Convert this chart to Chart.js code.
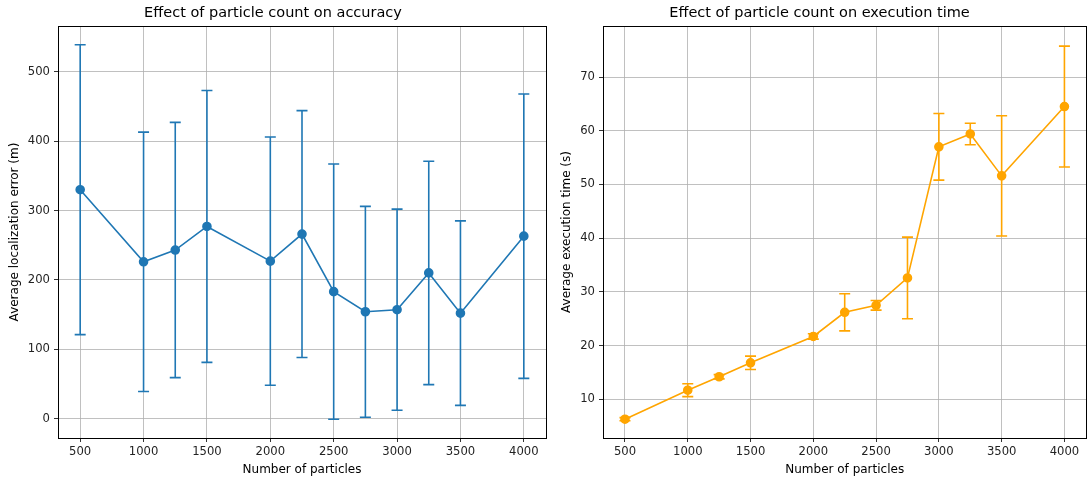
<!DOCTYPE html>
<html>
<head>
<meta charset="utf-8">
<script src="https://cdn.jsdelivr.net/npm/chart.js@4"></script>
<style>
  body { margin: 0; background: #fff; width: 1092px; height: 482px; overflow: hidden; }
  .box { position: absolute; top: 0; height: 482px; }
</style>
</head>
<body>
<div class="box" style="left:0;width:552px"><canvas id="chartErro"></canvas></div>
<div class="box" style="left:552px;width:540px"><canvas id="chartTempo"></canvas></div>
<script>
// dados
const particulas = [500, 1000, 1250, 1500, 2000, 2250, 2500, 2750, 3000, 3250, 3500, 4000];
const erroMedio = [330, 226, 243, 277, 227, 266, 183, 154, 157, 210, 152, 263];
const erroDesvio = [209, 187, 184, 196, 179, 178, 184, 152, 145, 161, 133, 205];
const tempoMedio = [6.3, 11.7, 14.2, 16.8, 21.7, 26.2, 27.5, 32.6, 57.0, 59.4, 51.6, 64.5];
const tempoDesvio = [0.3, 1.2, 0.4, 1.25, 0.5, 3.45, 0.9, 7.6, 6.2, 2.0, 11.2, 11.25];
const xTicks = [500, 1000, 1500, 2000, 2500, 3000, 3500, 4000];
const yTicksErro = [0, 100, 200, 300, 400, 500];
const yTicksTempo = [10, 20, 30, 40, 50, 60, 70];

Chart.defaults.font.family = "'DejaVu Sans', sans-serif";
Chart.defaults.color = "#222";

// barras de erro + moldura do gráfico
const errorBars = {
  id: "errorBars",
  beforeDatasetsDraw(chart, args, opts) {
    const c = chart.ctx;
    const xs = chart.scales.x, ys = chart.scales.y;
    c.save();
    c.strokeStyle = opts.color;
    c.lineWidth = 1.6;
    opts.means.forEach((m, i) => {
      const px = xs.getPixelForValue(particulas[i]);
      const top = ys.getPixelForValue(m + opts.devs[i]);
      const bot = ys.getPixelForValue(m - opts.devs[i]);
      c.beginPath();
      c.moveTo(px, top); c.lineTo(px, bot);
      c.moveTo(px - 5.5, top); c.lineTo(px + 5.5, top);
      c.moveTo(px - 5.5, bot); c.lineTo(px + 5.5, bot);
      c.stroke();
    });
    c.restore();
  },
  afterDraw(chart) {
    const a = chart.chartArea, c = chart.ctx;
    c.save();
    c.strokeStyle = "#000";
    c.lineWidth = 1;
    c.strokeRect(Math.round(a.left) + 0.5, Math.round(a.top) + 0.5, Math.round(a.right - a.left), Math.round(a.bottom - a.top));
    c.restore();
  }
};

function criarGrafico(id, titulo, yTitulo, medias, desvios, cor, yMin, yMax, yTicks, yLargura, padDir) {
  return new Chart(document.getElementById(id), {
    type: "line",
    data: {
      datasets: [{
        data: particulas.map((p, i) => ({ x: p, y: medias[i] })),
        borderColor: cor,
        backgroundColor: cor,
        borderWidth: 1.6,
        pointRadius: 4,
        pointHoverRadius: 4,
        tension: 0
      }]
    },
    options: {
      responsive: true,
      maintainAspectRatio: false,
      animation: false,
      layout: { padding: { left: 0, right: padDir, top: 0, bottom: 0 } },
      plugins: {
        legend: { display: false },
        tooltip: { enabled: false },
        title: {
          display: true,
          text: titulo,
          color: "#000",
          font: { size: 14.5, weight: "normal", lineHeight: 1.2 },
          padding: { top: 5, bottom: 3.6 }
        },
        errorBars: { means: medias, devs: desvios, color: cor }
      },
      scales: {
        x: {
          type: "linear",
          min: 325,
          max: 4175,
          afterBuildTicks: s => { s.ticks = xTicks.map(v => ({ value: v })); },
          afterFit: s => { s.height = 44; },
          grid: { color: "#b0b0b0", lineWidth: 0.8, tickLength: 4, tickColor: "#000" },
          border: { color: "#000", width: 1 },
          ticks: { padding: 3, font: { size: 11.6 }, maxRotation: 0, callback: v => String(v) },
          title: { display: true, text: "Number of particles", color: "#000", font: { size: 12, lineHeight: 1.2 }, padding: { top: 0, bottom: 4.5 } }
        },
        y: {
          type: "linear",
          min: yMin,
          max: yMax,
          afterBuildTicks: s => { s.ticks = yTicks.map(v => ({ value: v })); },
          afterFit: s => { s.width = yLargura; },
          grid: { color: "#b0b0b0", lineWidth: 0.8, tickLength: 4, tickColor: "#000" },
          border: { color: "#000", width: 1 },
          ticks: { padding: 4, font: { size: 11.6 }, callback: v => String(v) },
          title: { display: true, text: yTitulo, color: "#000", font: { size: 12, lineHeight: 1.2 }, padding: { top: 8, bottom: 0 } }
        }
      }
    },
    plugins: [errorBars]
  });
}

criarGrafico("chartErro", "Effect of particle count on accuracy", "Average localization error (m)",
  erroMedio, erroDesvio, "#1f77b4", -28, 566, yTicksErro, 58, 6);
criarGrafico("chartTempo", "Effect of particle count on execution time", "Average execution time (s)",
  tempoMedio, tempoDesvio, "#ffa500", 2.8, 79.5, yTicksTempo, 51, 5);
</script>
</body>
</html>
